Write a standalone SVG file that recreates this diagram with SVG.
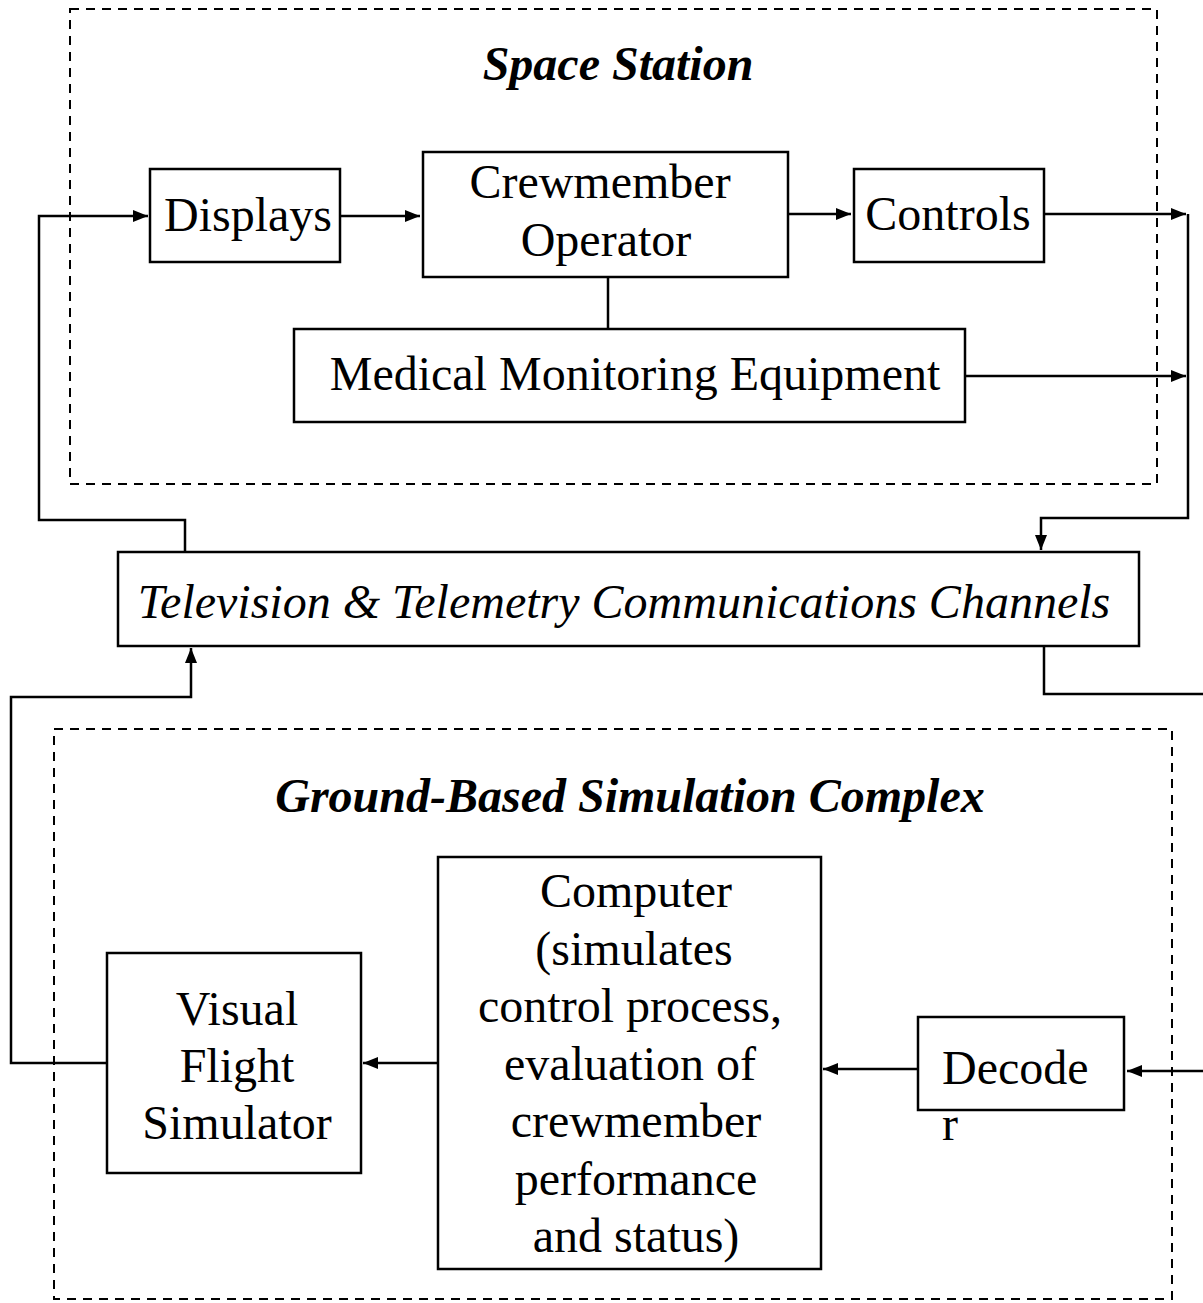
<svg xmlns="http://www.w3.org/2000/svg" width="1203" height="1303" viewBox="0 0 1203 1303">
  <style>
    .box { fill: #fff; stroke: #000; stroke-width: 2.5; }
    .zone { fill: none; stroke: #000; stroke-width: 2; stroke-dasharray: 9 7; }
    .wire { fill: none; stroke: #000; stroke-width: 2.5; }
    .lbl { font-family: "Liberation Serif", "Times New Roman", serif; font-size: 48px; fill: #000; }
    .mid { text-anchor: middle; }
    .it { font-style: italic; }
    .bi { font-style: italic; font-weight: bold; }
  </style>
  <defs>
    <marker id="arrow" viewBox="0 0 15 12" refX="15" refY="6" markerWidth="15" markerHeight="12" markerUnits="userSpaceOnUse" orient="auto">
      <path d="M0,0 L15,6 L0,12 Z" fill="#000"/>
    </marker>
  </defs>

  <rect width="1203" height="1303" fill="#fff"/>

  <!-- dashed enclosures -->
  <g id="space-station">
    <rect class="zone" x="70" y="9" width="1087" height="475"/>
    <text class="lbl bi mid" x="618" y="80">Space Station</text>
  </g>
  <g id="ground-complex">
    <rect class="zone" x="54" y="729" width="1118" height="570"/>
    <text class="lbl bi mid" x="630" y="812">Ground-Based Simulation Complex</text>
  </g>

  <!-- connectors -->
  <g id="connectors">
    <line class="wire" x1="340" y1="216" x2="420" y2="216" marker-end="url(#arrow)"/>
    <line class="wire" x1="788" y1="214" x2="851" y2="214" marker-end="url(#arrow)"/>
    <line class="wire" x1="608" y1="277" x2="608" y2="329"/>
    <line class="wire" x1="1044" y1="214" x2="1186" y2="214" marker-end="url(#arrow)"/>
    <line class="wire" x1="965" y1="376" x2="1186" y2="376" marker-end="url(#arrow)"/>
    <polyline class="wire" points="1188,214 1188,518 1041,518 1041,550" marker-end="url(#arrow)"/>
    <polyline class="wire" points="185,552 185,520 39,520 39,216 148,216" marker-end="url(#arrow)"/>
    <polyline class="wire" points="1044,646 1044,694 1203,694"/>
    <polyline class="wire" points="107,1063 11,1063 11,697 191,697 191,648" marker-end="url(#arrow)"/>
    <line class="wire" x1="1203" y1="1071" x2="1127" y2="1071" marker-end="url(#arrow)"/>
    <line class="wire" x1="918" y1="1069" x2="823" y2="1069" marker-end="url(#arrow)"/>
    <line class="wire" x1="438" y1="1063" x2="363" y2="1063" marker-end="url(#arrow)"/>
  </g>

  <!-- space station blocks -->
  <g id="displays">
    <rect class="box" x="150" y="169" width="190" height="93"/>
    <text class="lbl mid" x="248" y="231">Displays</text>
  </g>
  <g id="crewmember-operator">
    <rect class="box" x="423" y="152" width="365" height="125"/>
    <text class="lbl mid" x="600" y="198">Crewmember</text>
    <text class="lbl mid" x="606" y="256">Operator</text>
  </g>
  <g id="controls">
    <rect class="box" x="854" y="169" width="190" height="93"/>
    <text class="lbl mid" x="948" y="230">Controls</text>
  </g>
  <g id="medical-monitoring">
    <rect class="box" x="294" y="329" width="671" height="93"/>
    <text class="lbl mid" x="635" y="390">Medical Monitoring Equipment</text>
  </g>

  <!-- link -->
  <g id="tv-telemetry">
    <rect class="box" x="118" y="552" width="1021" height="94"/>
    <text class="lbl it mid" x="624" y="618">Television &amp; Telemetry Communications Channels</text>
  </g>

  <!-- ground blocks -->
  <g id="visual-flight-simulator">
    <rect class="box" x="107" y="953" width="254" height="220"/>
    <text class="lbl mid" x="237" y="1025">Visual</text>
    <text class="lbl mid" x="237" y="1082">Flight</text>
    <text class="lbl mid" x="237" y="1139">Simulator</text>
  </g>
  <g id="computer">
    <rect class="box" x="438" y="857" width="383" height="412"/>
    <text class="lbl mid" x="636" y="907">Computer</text>
    <text class="lbl mid" x="634" y="965">(simulates</text>
    <text class="lbl mid" x="630" y="1022">control process,</text>
    <text class="lbl mid" x="630" y="1080">evaluation of</text>
    <text class="lbl mid" x="636" y="1137">crewmember</text>
    <text class="lbl mid" x="636" y="1195">performance</text>
    <text class="lbl mid" x="636" y="1252">and status)</text>
  </g>
  <g id="decoder">
    <rect class="box" x="918" y="1017" width="206" height="93"/>
    <text class="lbl" x="942" y="1084">Decode</text>
    <text class="lbl" x="942" y="1140">r</text>
  </g>
</svg>
